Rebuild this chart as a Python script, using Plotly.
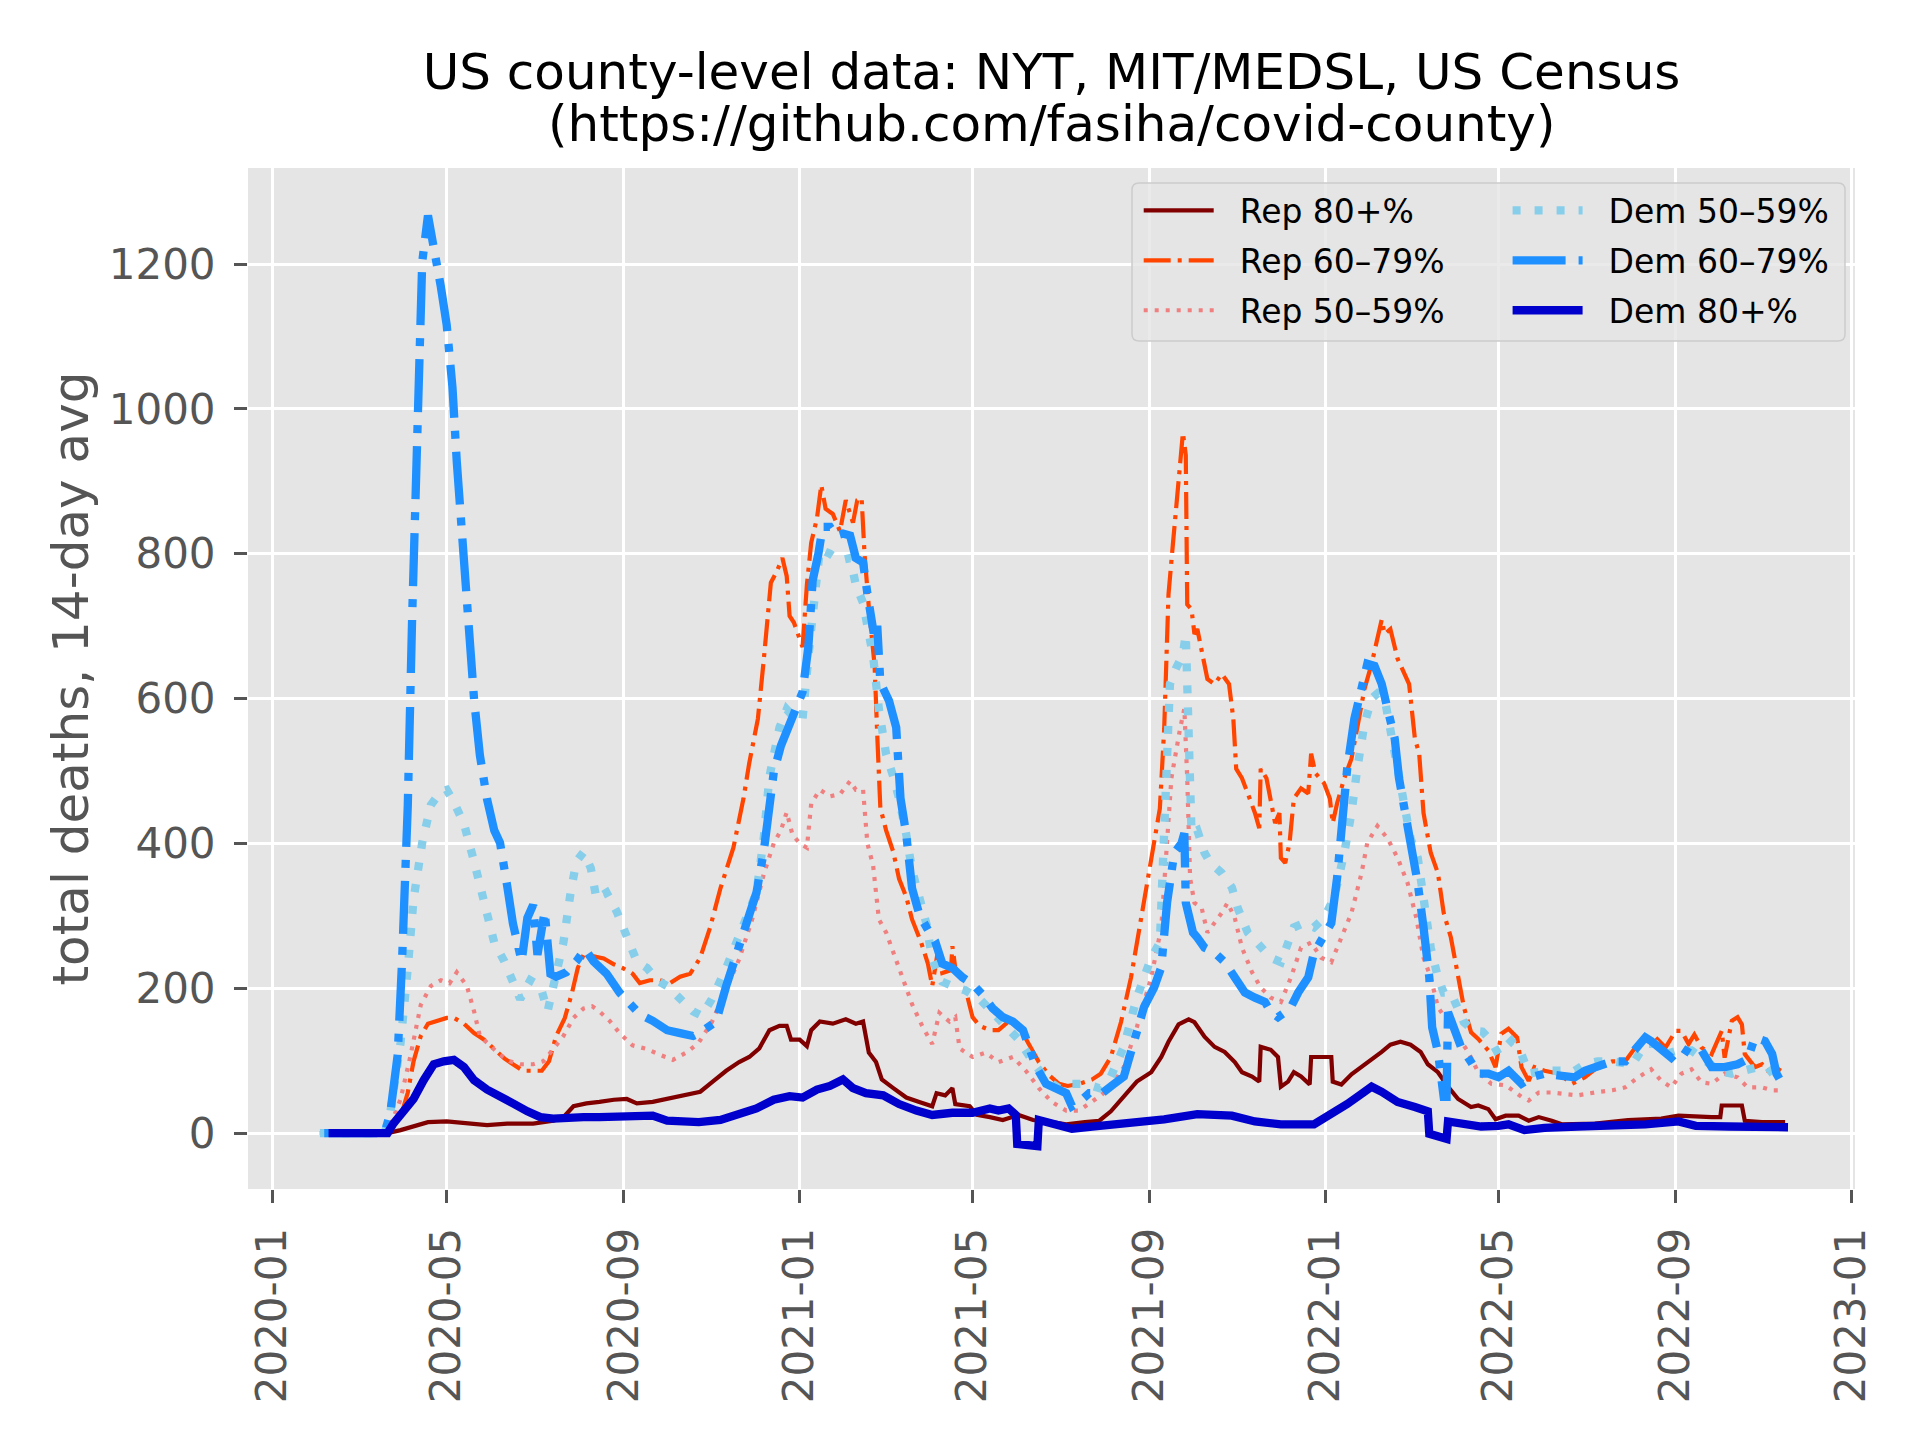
import pandas as pd
import plotly.graph_objects as go

START = pd.Timestamp("2020-01-01")

# (days after 2020-01-01, total deaths 14-day avg)
rep80 = [(33,0),(80,0),(89,4),(98,9),(108,15),(121,16),(135,13),(149,11),(163,13),(181,13),(195,17),(202,22),
         (209,37),(218,41),(227,43),(237,46),(246,47),(253,41),(264,43),(274,47),(285,52),(297,57),(305,70),
         (315,86),(324,98),(331,105),(338,117),(345,142),(352,148),(357,148),(360,129),(366,129),(371,120),
         (374,142),(380,154),(389,151),(398,157),(405,151),(410,154),(414,111),(419,98),(423,74),(431,62),
         (440,49),(449,43),(458,37),(461,55),(467,52),(472,62),(474,40),(484,37),(489,25),(498,22),(507,18),
         (518,25),(528,18),(541,15),(551,12),(564,15),(574,17),(582,30),(591,50),(600,71),(610,84),(617,105),
         (622,126),(629,150),(636,157),(640,153),(647,133),(654,119),(661,112),(668,98),(673,84),(680,78),
         (685,71),(686,119),(693,115),(698,105),(700,64),(705,71),(709,84),(714,78),(720,67),(721,105),
         (728,105),(735,105),(736,71),(742,67),(749,81),(756,91),(763,102),(770,112),(776,122),(783,126),
         (790,122),(797,112),(802,95),(809,84),(816,64),(823,47),(832,36),(837,38),(844,33),(849,19),(856,24),
         (865,24),(872,17),(879,22),(888,17),(895,12),(918,13),(941,18),(964,20),(976,24),(999,22),(1005,22),
         (1006,38),(1020,38),(1022,17),(1034,15),(1050,15)]

rep60 = [(33,0),(80,0),(89,22),(94,56),(98,99),(103,134),(108,151),(115,155),(121,159),(126,159),(133,151),
         (140,138),(147,129),(154,116),(161,103),(167,95),(174,86),(181,86),(187,86),(192,99),(197,134),
         (203,159),(208,194),(212,228),(216,246),(223,244),(230,241),(237,233),(243,228),(250,220),(255,207),
         (262,211),(269,211),(276,207),(283,216),(290,220),(297,242),(304,285),(311,338),(320,394),(327,462),
         (331,511),(337,572),(341,652),(344,723),(346,760),(350,775),(354,794),(357,769),(359,714),(362,705),
         (366,683),(368,671),(371,757),(374,815),(378,849),(381,895),(384,862),(389,855),(394,831),(398,874),
         (403,843),(406,874),(409,877),(411,800),(414,726),(418,646),(420,542),(422,449),(426,418),(431,388),
         (435,351),(440,326),(444,295),(450,265),(455,234),(458,203),(462,252),(465,221),(471,225),(472,258),
         (474,228),(479,215),(486,160),(491,148),(498,142),(504,142),(511,154),(518,148),(525,123),(532,98),
         (539,80),(546,68),(552,65),(560,68),(569,74),(575,82),(582,105),(589,153),(596,215),(603,297),
         (610,373),(616,448),(619,558),(622,744),(625,812),(629,902),(632,967),(634,936),(635,730),(638,723),
         (640,689),(642,696),(646,655),(649,627),(654,620),(659,634),(664,620),(667,572),(669,503),(673,490),
         (677,469),(682,442),(685,421),(686,503),(690,490),(693,455),(696,428),(699,442),(700,380),(703,373),
         (706,400),(709,462),(714,476),(719,469),(721,524),(724,497),(730,483),(734,462),(736,428),(739,455),
         (744,490),(749,517),(753,558),(758,613),(763,648),(767,682),(770,709),(772,689),(776,696),(781,655),
         (786,634),(789,620),(793,545),(796,524),(799,442),(804,387),(809,359),(813,304),(818,270),(823,215),
         (827,174),(832,139),(837,130),(844,114),(849,91),(853,137),(858,144),(864,132),(867,91),(872,72),
         (876,91),(883,86),(893,82),(902,68),(911,77),(920,91),(930,99),(939,99),(946,118),(953,132),(960,132),
         (967,118),(974,141),(978,141),(983,123),(987,136),(992,118),(999,109),(1006,141),(1008,104),(1013,155),
         (1017,160),(1020,150),(1022,109),(1029,91),(1034,95),(1038,86),(1043,91),(1047,86)]

rep50 = [(33,0),(80,0),(89,47),(96,108),(103,177),(110,203),(117,211),(123,207),(128,222),(135,203),(140,168),
         (144,134),(151,121),(158,108),(165,99),(172,95),(181,95),(188,99),(195,116),(202,134),(209,159),
         (216,172),(222,175),(227,168),(234,155),(241,138),(250,121),(260,116),(269,108),(278,101),(288,112),
         (296,125),(305,153),(315,197),(324,240),(333,295),(341,357),(348,400),(353,418),(357,443),(361,412),
         (366,400),(371,394),(374,455),(380,474),(387,465),(394,468),(401,486),(405,474),(410,474),(413,400),
         (417,369),(421,295),(426,277),(433,240),(437,215),(444,178),(451,148),(458,123),(463,166),(470,154),
         (474,160),(477,117),(486,105),(495,111),(504,98),(514,105),(523,86),(532,62),(541,43),(551,31),
         (560,31),(569,43),(575,52),(582,64),(591,91),(600,146),(610,215),(617,284),(621,407),(624,490),
         (630,558),(633,586),(635,490),(637,352),(640,318),(645,311),(649,277),(654,290),(659,304),(663,318),
         (668,297),(673,256),(680,222),(686,201),(693,187),(700,181),(707,215),(714,256),(721,263),(728,242),
         (735,236),(742,270),(749,304),(756,359),(760,401),(767,424),(774,407),(781,380),(788,345),(794,297),
         (799,242),(804,215),(809,174),(816,153),(823,133),(830,112),(837,84),(846,68),(856,66),(867,50),
         (872,45),(879,56),(888,56),(897,54),(906,52),(918,56),(930,59),(939,63),(948,77),(957,88),(964,72),
         (971,63),(978,82),(985,88),(992,70),(999,68),(1008,82),(1017,77),(1024,63),(1034,63),(1041,59),(1046,59)]

dem50 = [(33,0),(78,0),(82,30),(89,125),(94,228),(98,323),(104,401),(110,453),(117,472),(121,474),(126,457),
         (133,427),(140,375),(147,315),(154,263),(161,237),(167,211),(172,185),(179,211),(186,203),(191,168),
         (195,203),(202,263),(207,332),(211,375),(216,388),(221,366),(225,323),(232,332),(239,306),(246,272),
         (253,237),(260,228),(267,211),(274,203),(283,185),(292,168),(298,162),(305,185),(315,228),(322,265),
         (329,295),(336,332),(341,406),(345,492),(352,560),(357,585),(363,572),(368,572),(373,677),(376,745),
         (380,806),(387,800),(394,791),(401,794),(405,757),(410,732),(413,695),(417,658),(421,585),(426,523),
         (431,492),(435,462),(440,412),(444,363),(449,326),(454,289),(458,240),(465,209),(472,203),(481,197),
         (491,185),(500,166),(509,148),(518,129),(528,98),(537,74),(546,62),(555,68),(564,68),(574,62),(582,78),
         (591,119),(600,187),(610,242),(616,263),(619,421),(621,558),(623,620),(627,641),(632,661),(634,689),
         (636,558),(637,435),(638,414),(642,418),(647,387),(651,373),(659,359),(666,339),(670,311),(677,277),
         (686,256),(693,242),(700,236),(705,263),(709,284),(716,290),(723,284),(730,297),(737,325),(744,387),
         (749,442),(753,503),(758,565),(763,600),(767,607),(772,600),(776,558),(781,503),(786,448),(790,407),
         (795,380),(799,325),(804,256),(809,215),(813,194),(818,194),(823,174),(827,153),(834,141),(840,140),
         (846,127),(851,109),(860,127),(867,109),(872,82),(883,86),(895,86),(904,86),(911,95),(920,99),(930,99),
         (944,95),(953,123),(960,123),(967,109),(976,114),(985,114),(994,99),(1004,86),(1013,82),(1022,86),
         (1031,91),(1038,91),(1045,72),(1047,72)]

dem60 = [(36,0),(78,0),(82,30),(87,108),(90,237),(94,453),(97,711),(101,987),(104,1203),(108,1267),(112,1228),
         (117,1168),(121,1116),(125,1030),(128,927),(132,815),(135,711),(140,599),(144,522),(149,461),(154,418),
         (158,401),(163,341),(167,289),(173,237),(177,297),(181,315),(184,246),(189,306),(193,220),(197,216),
         (204,222),(211,237),(217,254),(223,237),(232,220),(241,194),(248,177),(255,164),(264,155),(274,142),
         (283,138),(292,134),(298,140),(308,154),(315,203),(322,246),(329,289),(336,332),(341,388),(348,498),
         (353,535),(359,566),(363,585),(368,609),(372,671),(375,763),(379,800),(382,837),(387,837),(391,825),
         (396,828),(401,825),(405,794),(410,788),(413,745),(417,695),(420,695),(422,622),(428,597),(433,560),
         (436,462),(440,412),(444,338),(449,302),(456,277),(460,265),(465,234),(472,228),(479,215),(486,206),
         (493,191),(500,172),(507,160),(514,154),(521,142),(525,123),(530,92),(537,68),(544,62),(551,55),
         (555,37),(560,43),(567,55),(576,55),(583,66),(591,78),(598,126),(605,174),(612,201),(617,229),
         (621,318),(623,352),(626,387),(631,400),(633,414),(634,318),(636,297),(639,277),(642,270),(647,256),
         (654,249),(661,236),(668,215),(675,194),(682,187),(689,181),(693,167),(698,160),(703,167),(707,174),
         (712,194),(719,215),(723,249),(730,270),(735,290),(739,352),(743,435),(746,503),(751,572),(756,620),
         (760,648),(765,645),(770,620),(774,586),(779,545),(782,490),(786,448),(790,394),(795,345),(799,284),
         (803,215),(805,146),(809,112),(813,50),(815,50),(816,167),(820,146),(825,119),(832,98),(837,82),
         (844,82),(851,77),(858,86),(867,68),(874,77),(883,82),(895,79),(904,77),(911,86),(920,91),(930,99),
         (939,99),(946,114),(953,132),(957,127),(964,114),(971,104),(978,118),(985,109),(992,114),(999,91),
         (1008,91),(1017,95),(1024,102),(1029,132),(1036,127),(1041,109),(1044,82),(1046,75)]

dem80 = [(39,0),(80,0),(84,13),(91,30),(98,47),(105,73),(112,95),(119,99),(126,101),(133,91),(140,73),(149,60),
         (158,49),(167,41),(177,30),(186,22),(195,20),(204,22),(216,22),(227,22),(239,22),(250,22),(264,24),
         (274,17),(285,15),(296,15),(311,18),(324,25),(336,34),(348,46),(359,51),(368,49),(378,60),(387,65),
         (396,74),(403,62),(412,55),(424,52),(435,40),(447,31),(458,25),(472,28),(486,28),(498,34),(504,31),
         (511,34),(516,25),(517,-15),(528,-18),(531,-18),(532,18),(544,12),(555,6),(569,9),(583,12),(596,12),
         (619,19),(642,26),(666,24),(682,16),(700,12),(723,12),(735,26),(746,40),(756,54),(763,64),(770,57),
         (781,43),(793,36),(802,30),(803,-1),(813,-8),(815,-8),(816,16),(827,12),(839,9),(851,10),(858,12),
         (869,4),(883,7),(906,9),(930,10),(953,12),(976,16),(988,10),(1011,9),(1034,8),(1052,8)]

labels = ["Rep 80+%", "Rep 60\u201379%", "Rep 50\u201359%", "Dem 50\u201359%", "Dem 60\u201379%", "Dem 80+%"]
data = [rep80, rep60, rep50, dem50, dem60, dem80]

colors = ["#800000", "#FF4500", "#F08080", "#87CEEB", "#1E90FF", "#0000CD"]
widths = [4.2, 4.2, 4.2, 8.3, 8.3, 8.3]
dashes = ["solid", "27px,7px,4px,7px", "4px,7px", "8px,14px", "53px,13px,8px,13px", "solid"]
legends = ["legend", "legend", "legend", "legend2", "legend2", "legend2"]

fig = go.Figure()
for i, (name, pts) in enumerate(zip(labels, data)):
    days = [p[0] for p in pts]
    vals = [p[1] for p in pts]
    dates = START + pd.to_timedelta(days, unit="D")
    fig.add_trace(go.Scatter(
        x=dates, y=vals, mode="lines", name="\u00a0\u00a0" + name,
        line=dict(color=colors[i], width=widths[i], dash=dashes[i]),
        legend=legends[i], legendgroup=name,
    ))

# layout geometry (screen pixels; the page body adds an 8px offset)
W, H, OFF = 1920, 1440, 8
PL, PR, PT, PB = 248, 1855, 168, 1189          # plot area on screen
ML, MT = PL - OFF, PT - OFF
MR, MB = OFF + W - PR, OFF + H - PB
pw, ph = PR - PL, PB - PT


def px(xs):
    return (xs - PL) / pw


def py(ys):
    return (PB - ys) / ph


# legend frame (rounded rectangle in paper coords)
L, R, T, B = px(1132), px(1845), py(183), py(341)
rx, ry = 7 / pw, 7 / ph
frame = (f"M {L+rx},{B} L {R-rx},{B} Q {R},{B} {R},{B+ry} L {R},{T-ry} Q {R},{T} {R-rx},{T} "
         f"L {L+rx},{T} Q {L},{T} {L},{T-ry} L {L},{B+ry} Q {L},{B} {L+rx},{B} Z")

legend_common = dict(
    xanchor="left", yanchor="top", bgcolor="rgba(0,0,0,0)", borderwidth=0,
    font=dict(family="DejaVu Sans", size=33, color="black"),
    itemwidth=70, tracegroupgap=4, orientation="v",
)

fig.update_layout(
    width=W, height=H,
    margin=dict(l=ML, r=MR, t=MT, b=MB, autoexpand=False),
    paper_bgcolor="white", plot_bgcolor="#E5E5E5",
    font=dict(family="DejaVu Sans", size=42, color="#555555"),
    title=dict(
        text="US county-level data: NYT, MIT/MEDSL, US Census",
        x=0.5, xref="paper", xanchor="center",
        y=1 - (71 - OFF) / H, yref="container", yanchor="middle",
        font=dict(family="DejaVu Sans", size=50, color="black"),
    ),
    annotations=[dict(
        text="(https://github.com/fasiha/covid-county)",
        x=0.5, xref="paper", xanchor="center",
        y=py(124), yref="paper", yanchor="middle", showarrow=False,
        font=dict(family="DejaVu Sans", size=50, color="black"),
    )],
    xaxis=dict(
        type="date", range=["2019-12-15 02:00", "2023-01-03 12:00"],
        tickformat="%Y-%m", dtick="M4", tick0="2020-01-01", tickangle=-90,
        ticks="outside", ticklen=13, tickwidth=3, tickcolor="#555555",
        showgrid=True, gridcolor="white", gridwidth=3.3,
        zeroline=False, showline=False, automargin=False,
        tickfont=dict(family="DejaVu Sans", size=42, color="#555555"),
        ticklabelstandoff=8,
    ),
    yaxis=dict(
        range=[-77.3, 1332.7], dtick=200, tick0=0,
        ticks="outside", ticklen=13, tickwidth=3, tickcolor="#555555",
        showgrid=True, gridcolor="white", gridwidth=3.3,
        zeroline=False, showline=False, automargin=False,
        tickfont=dict(family="DejaVu Sans", size=42, color="#555555"),
        ticklabelstandoff=10,
        title=dict(text="total deaths, 14-day avg",
                   font=dict(family="DejaVu Sans", size=50, color="#555555"), standoff=4),
    ),
    legend=dict(x=px(1138.7), y=py(182.5), **legend_common),
    legend2=dict(x=px(1507.6), y=py(182.5), **legend_common),
    shapes=[dict(type="path", xref="paper", yref="paper", path=frame,
                 fillcolor="rgba(229,229,229,0.8)", line=dict(color="#CCCCCC", width=1.5),
                 layer="above")],
    showlegend=True,
)

fig.write_html("out.html")
